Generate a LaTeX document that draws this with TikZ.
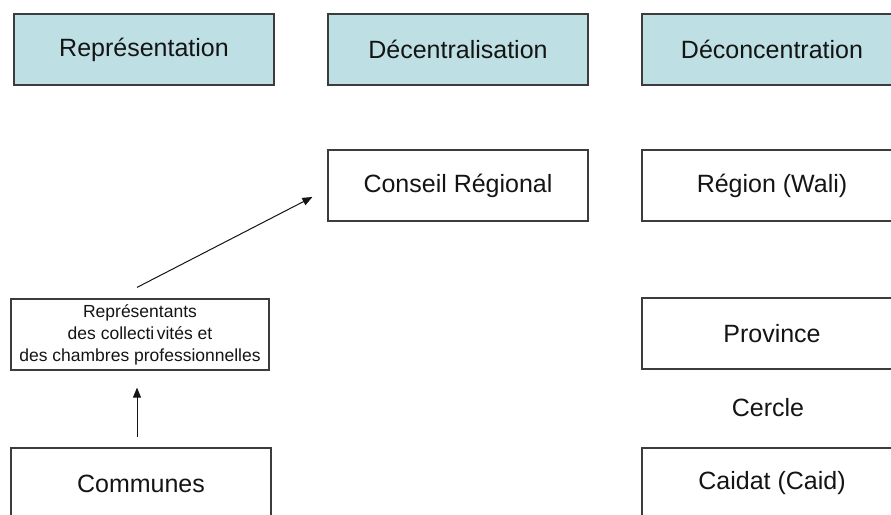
\documentclass[tikz,border=0pt]{standalone}
\usepackage{fontspec}
\setmainfont{Liberation Sans}
\usetikzlibrary{arrows.meta,calc}

\definecolor{headfill}{RGB}{190,224,228}
\definecolor{edgegray}{RGB}{60,60,60}
\definecolor{inkblack}{RGB}{20,20,20}

\tikzset{
  box/.style={draw=edgegray, line width=1.2pt, minimum width=260pt, minimum height=71pt,
    inner sep=0pt, align=center, text=inkblack, font=\fontsize{25}{30}\selectfont},
  headbox/.style={box, fill=headfill},
  smallbox/.style={box, minimum width=258pt, font=\fontsize{17.5}{22}\selectfont},
  plain/.style={inner sep=0pt, text=inkblack, font=\fontsize{25}{30}\selectfont},
  arr/.style={draw=inkblack, line width=1pt, -{Triangle[length=10pt,width=8pt]}}
}

\begin{document}
\begin{tikzpicture}[x=1pt, y=-1pt]
  \useasboundingbox (0,0) rectangle (891,514);

  % column headings
  \node[headbox] (repr)  at (144,49.5) {Représentation};
  \node[headbox] (decen) at (458,49.5) {Décentralisation};
  \node[headbox] (decon) at (772,49.5) {Déconcentration};

  % regional level
  \node[box] (conseil) at (458,185.5) {Conseil Régional};
  \node[box] (region)  at (772,185.5) {Région (Wali)};

  % intermediate level
  \node[smallbox] (reps) at (140,334.5) {Représentants\\des collecti\kern2.5pt vités et\\des chambres professionnelles};
  \node[box] (province) at (772,333.5) {Province};
  \node[plain] (cercle) at (768,408) {Cercle};

  % local level
  \node[box] (communes) at (141,483.5) {Communes};
  \node[box] (caidat)   at (772,483.5) {Caidat (Caid)};

  % connectors
  \draw[arr] ($(communes.north)+(-4,-10)$) -- ($(reps.south)+(-3,17)$);
  \draw[arr] ($(reps.north)+(-3,-11)$) -- ($(conseil.west)+(-15,11.5)$);
\end{tikzpicture}
\end{document}
